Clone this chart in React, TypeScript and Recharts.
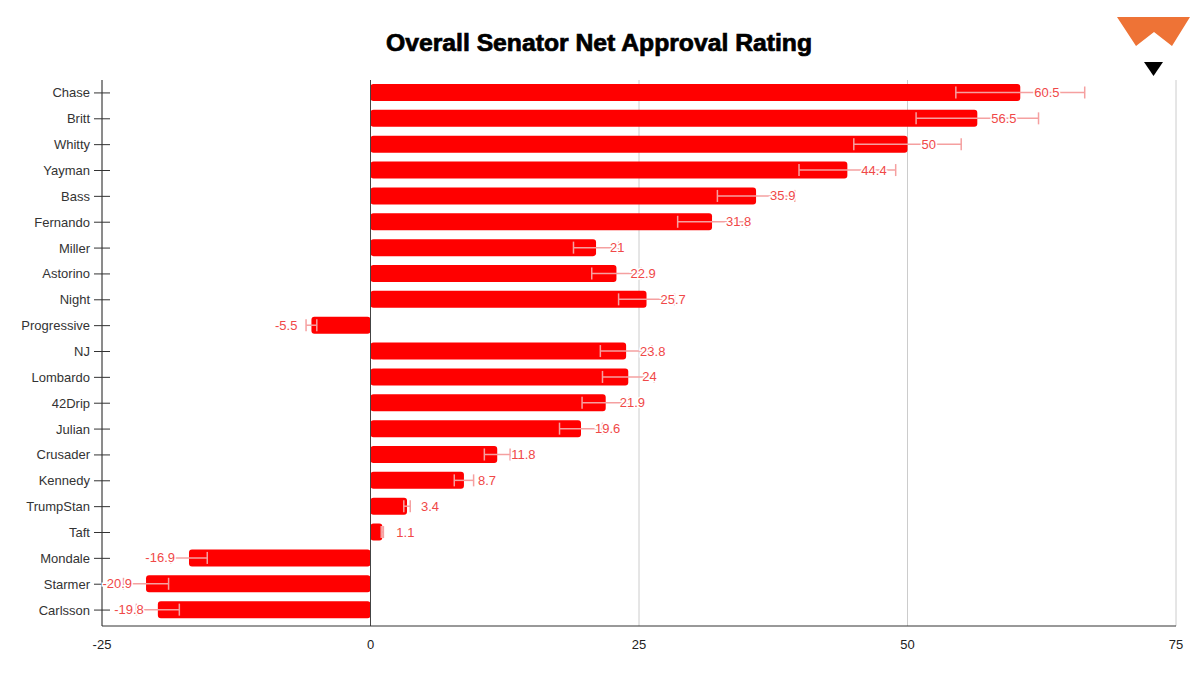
import {
  Bar,
  BarChart,
  CartesianGrid,
  ErrorBar,
  LabelList,
  ReferenceLine,
  XAxis,
  YAxis,
} from "recharts";

const senators = [
  "Chase", "Britt", "Whitty", "Yayman", "Bass", "Fernando", "Miller",
  "Astorino", "Night", "Progressive", "NJ", "Lombardo", "42Drip", "Julian",
  "Crusader", "Kennedy", "TrumpStan", "Taft", "Mondale", "Starmer", "Carlsson",
];
const netApproval = [
  60.5, 56.5, 50, 44.4, 35.9, 31.8, 21, 22.9, 25.7, -5.5, 23.8, 24, 21.9,
  19.6, 11.8, 8.7, 3.4, 1.1, -16.9, -20.9, -19.8,
];
const errorRange = [
  6, 5.7, 5, 4.5, 3.6, 3.2, 2.1, 2.3, 2.6, 0.5, 2.4, 2.4, 2.2, 2.0, 1.2, 0.9,
  0.3, 0.1, 1.7, 2.1, 2.0,
];
const xTicks = [-25, 0, 25, 50, 75];

const data = senators.map((name, i) => ({
  name,
  value: netApproval[i],
  err: errorRange[i],
}));

const font = "'Liberation Sans', Arial, sans-serif";

function NameTick(props: any) {
  const { x, y, payload } = props;
  return (
    <g>
      <line x1={x - 8} x2={x + 8} y1={y} y2={y} stroke="#333" strokeWidth={1} />
      <text
        x={x - 12}
        y={y}
        dy="0.35em"
        textAnchor="end"
        fontSize={13}
        fill="#333"
        fontFamily={font}
      >
        {payload.value}
      </text>
    </g>
  );
}

function ValueLabel(props: any) {
  const { x, y, width, height, value } = props;
  const left = Math.min(x, x + width);
  const right = Math.max(x, x + width);
  const neg = value < 0;
  const tx = neg ? left - 14 : right + 14;
  return (
    <text
      x={tx}
      y={y + height / 2}
      dy="0.35em"
      textAnchor={neg ? "end" : "start"}
      fontSize={13}
      fill="#f04848"
      stroke="#fff"
      strokeWidth={3}
      paintOrder="stroke"
      fontFamily={font}
    >
      {value}
    </text>
  );
}

export default function App() {
  return (
    <div
      style={{
        position: "absolute",
        left: 0,
        top: 0,
        width: 1200,
        height: 674,
        background: "#fff",
        fontFamily: font,
      }}
    >
      <BarChart
        width={1200}
        height={674}
        data={data}
        layout="vertical"
        margin={{ top: 80, right: 24, bottom: 18, left: 0 }}
        barCategoryGap={0}
      >
        <CartesianGrid horizontal={false} stroke="#ccc" />
        <XAxis
          type="number"
          domain={[-25, 75]}
          ticks={xTicks}
          allowDataOverflow
          axisLine={{ stroke: "#333" }}
          tickLine={false}
          tickMargin={8}
          height={30}
          tick={{ fontSize: 13, fill: "#222", fontFamily: font }}
        />
        <YAxis
          type="category"
          dataKey="name"
          width={102}
          axisLine={{ stroke: "#333" }}
          tickLine={false}
          tickSize={0}
          tickMargin={0}
          interval={0}
          padding={{ top: 0, bottom: 3 }}
          tick={<NameTick />}
        />
        <ReferenceLine x={0} stroke="#444" />
        <Bar
          dataKey="value"
          fill="#ff0000"
          barSize={17}
          radius={3}
          isAnimationActive={false}
        >
          <ErrorBar
            dataKey="err"
            direction="x"
            width={6}
            stroke="#f5a0a0"
            strokeWidth={1.5}
          />
          <LabelList dataKey="value" content={<ValueLabel />} />
        </Bar>
      </BarChart>
      <svg
        width={1200}
        height={674}
        style={{ position: "absolute", left: 0, top: 0, pointerEvents: "none" }}
      >
        <text
          x={599}
          y={51}
          textAnchor="middle"
          fontSize={23}
          fontWeight={700}
          fontFamily={font}
          fill="#000"
          stroke="#000"
          strokeWidth={0.7}
          textLength={426}
          lengthAdjust="spacingAndGlyphs"
        >
          Overall Senator Net Approval Rating
        </text>
        <polygon
          points="1117,17 1190,17 1172,46 1154,32 1136,46"
          fill="#ee7336"
        />
        <polygon points="1144,62 1163,62 1153.5,76" fill="#000" />
      </svg>
    </div>
  );
}
